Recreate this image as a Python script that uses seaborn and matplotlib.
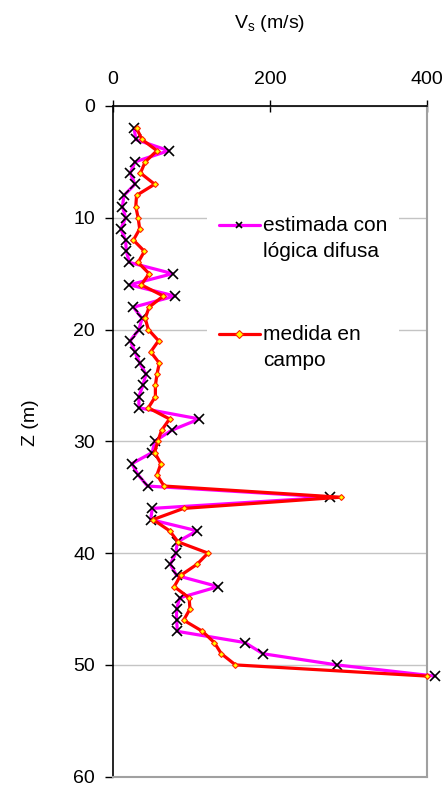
import numpy as np
import pandas as pd
import seaborn as sns
import matplotlib.pyplot as plt

# profundidad (m) y velocidad de onda de corte (m/s)
depth = list(range(2, 52))
vs_estimada = [27, 29, 71, 28, 22, 28, 14, 12, 16, 10,
               16, 17, 21, 76, 21, 79, 26, 37, 33, 22,
               28, 34, 42, 38, 33, 33, 110, 75, 53, 50,
               24, 32, 44, 277, 50, 48, 107, 82, 80, 73,
               81, 134, 85, 81, 81, 82, 168, 191, 285, 410]
vs_medida = [30, 37, 56, 41, 35, 53, 30, 29, 32, 34,
             26, 40, 32, 46, 36, 64, 46, 41, 45, 58,
             48, 59, 56, 54, 54, 45, 72, 62, 57, 53,
             61, 56, 65, 290, 90, 51, 72, 83, 121, 107,
             86, 78, 97, 98, 90, 114, 129, 138, 156, 400]
labels = ["estimada con\nlógica difusa", "medida en\ncampo"]
x_ticks = [0, 200, 400]
y_ticks = [0, 10, 20, 30, 40, 50, 60]


def set_config():
    sns.set_style("white")
    plt.rcParams["font.family"] = ["Liberation Sans", "DejaVu Sans"]
    plt.rcParams["mathtext.fontset"] = "custom"
    plt.rcParams["mathtext.rm"] = "Liberation Sans"
    plt.rcParams["mathtext.default"] = "rm"
    for key in ["text.color", "axes.labelcolor", "xtick.color", "ytick.color"]:
        plt.rcParams[key] = "black"


def main():
    set_config()
    df = pd.DataFrame({"depth": depth, "estimada": vs_estimada, "medida": vs_medida})

    fig = plt.figure(figsize=(4.47, 7.89), dpi=100)
    ax = fig.add_axes([0.2528, 0.0156, 0.7025, 0.8501])

    sns.lineplot(data=df, x="estimada", y="depth", sort=False, orient="y",
                 estimator=None, color="#ff00ff", lw=2.3, marker="x",
                 markersize=6.5, mec="black", mew=1.2, label=labels[0],
                 clip_on=False, zorder=3, ax=ax)
    sns.lineplot(data=df, x="medida", y="depth", sort=False, orient="y",
                 estimator=None, color="#ff0000", lw=2.3, marker="D",
                 markersize=3, mfc="#ffff00", mec="#ff2000", mew=0.8,
                 label=labels[1], clip_on=False, zorder=4, ax=ax)

    ax.set_xlim(0, 400)
    ax.set_ylim(60, 0)
    ax.set_xticks(x_ticks)
    ax.set_yticks(y_ticks)
    ax.xaxis.tick_top()
    ax.xaxis.set_label_position("top")
    ax.tick_params(axis="x", direction="inout", length=8, width=1,
                   color="black", labelcolor="black", labelsize=14, pad=9)
    ax.tick_params(axis="y", direction="out", length=6, width=1,
                   color="black", labelcolor="black", labelsize=14, pad=7,
                   left=True)
    ax.set_xlabel(r"V$_\mathrm{s}$ (m/s)", fontsize=14, labelpad=31)
    ax.set_ylabel("Z (m)", fontsize=14)
    ax.yaxis.set_label_coords(-0.236, 0.528)

    ax.yaxis.grid(True, color="#c4c4c4", lw=1)
    ax.xaxis.grid(False)
    for side in ["left", "top"]:
        ax.spines[side].set_color("black")
        ax.spines[side].set_linewidth(1.2)
    for side in ["right", "bottom"]:
        ax.spines[side].set_color("#a0a0a0")
        ax.spines[side].set_linewidth(1.5)

    leg = ax.legend(loc="upper left", bbox_to_anchor=(207 / 447, 1 - 204 / 789),
                    bbox_transform=fig.transFigure, fontsize=15, frameon=True,
                    fancybox=False, framealpha=1, edgecolor="none",
                    facecolor="white", handlelength=1.95, handletextpad=0.15,
                    labelspacing=3.1, borderpad=0.58, borderaxespad=0)
    for t in leg.get_texts():
        t.set_linespacing(1.45)
    # la muestra de linea va a la altura de la primera linea del texto
    for h in leg.legend_handles:
        h.set_markersize(4)
        h.set_ydata(np.asarray(h.get_ydata()) + 10)

    fig.savefig("out.png", dpi=100)


if __name__ == "__main__":
    main()
